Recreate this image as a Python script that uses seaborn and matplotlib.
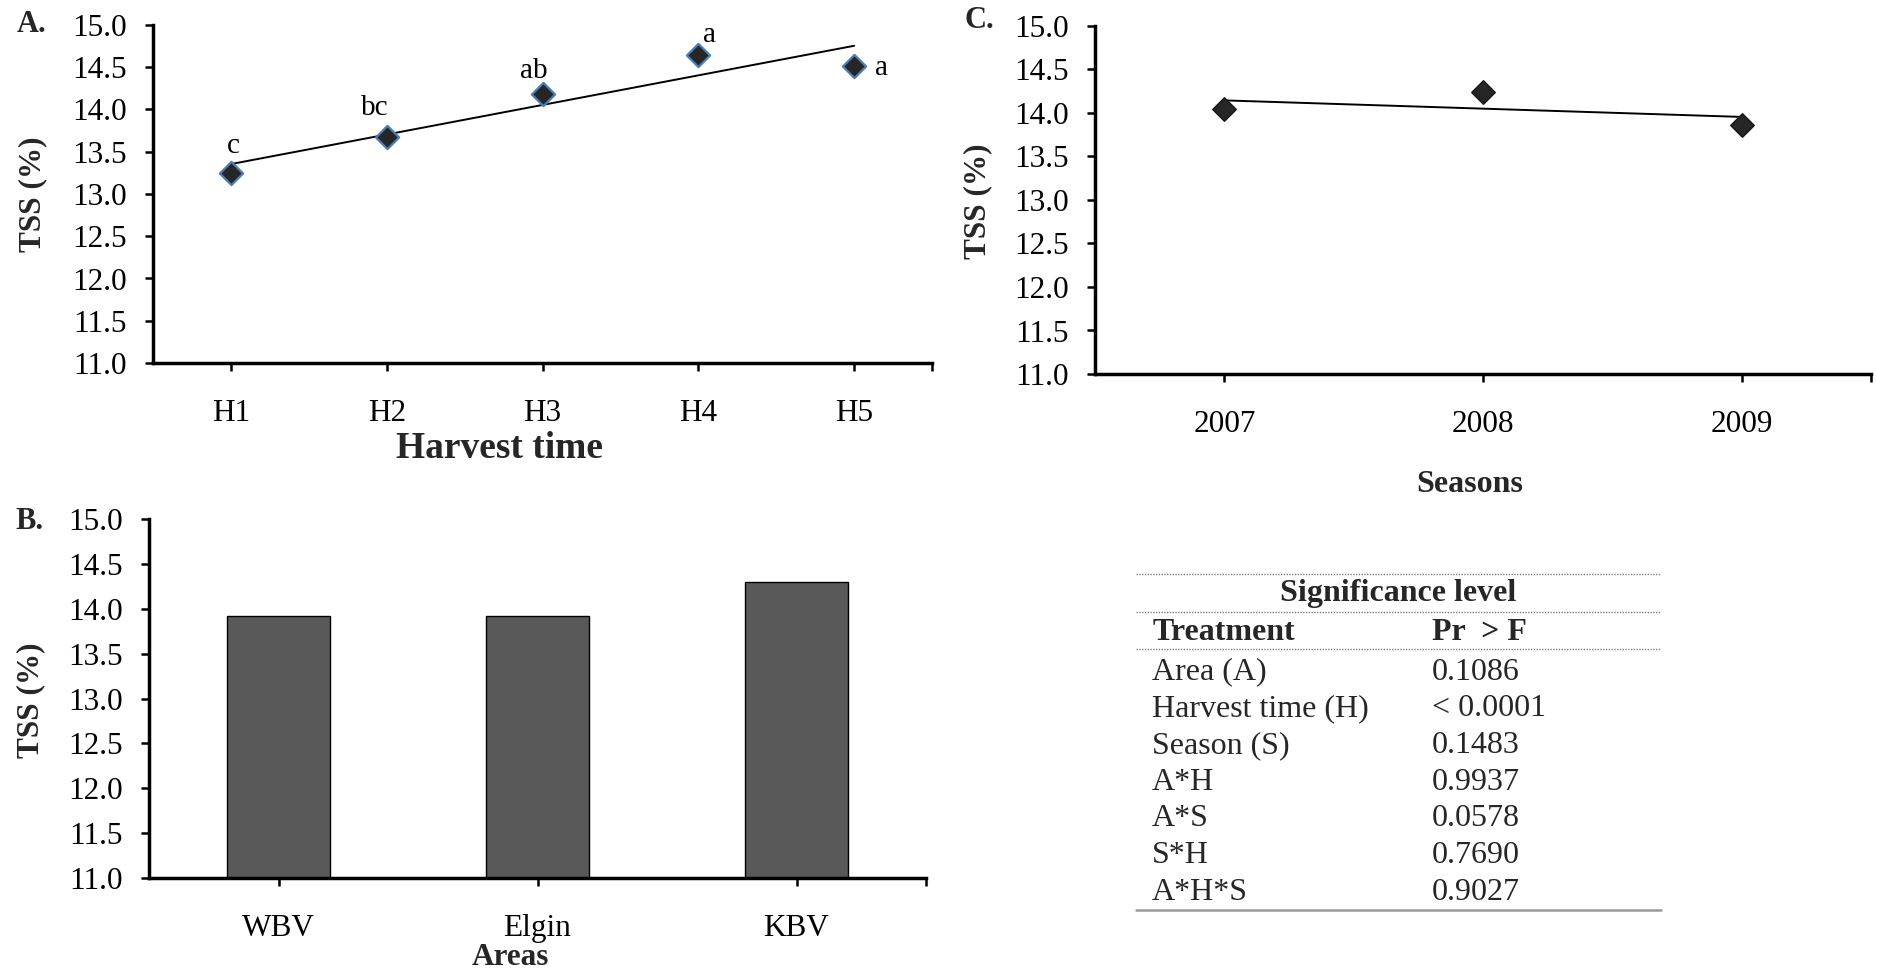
import numpy as np
import matplotlib
matplotlib.use("Agg")
import matplotlib.pyplot as plt
import seaborn as sns
from matplotlib.ticker import FixedLocator, FormatStrFormatter
from matplotlib.lines import Line2D

# Harvest-time means with significance letters
harvest_times = ["H1", "H2", "H3", "H4", "H5"]
harvest_tss = [13.25, 13.68, 14.18, 14.64, 14.52]
harvest_letters = ["c", "bc", "ab", "a", "a"]

# Area means
areas = ["WBV", "Elgin", "KBV"]
area_tss = [13.92, 13.92, 14.30]

# Season means
seasons = ["2007", "2008", "2009"]
season_tss = [14.05, 14.24, 13.86]

# ANOVA summary
treatments = ["Area (A)", "Harvest time (H)", "Season (S)", "A*H", "A*S", "S*H", "A*H*S"]
p_values = ["0.1086", "< 0.0001", "0.1483", "0.9937", "0.0578", "0.7690", "0.9027"]

y_ticks = [11.0, 11.5, 12.0, 12.5, 13.0, 13.5, 14.0, 14.5, 15.0]

W, H = 1877, 971
sns.set_theme(style="white")
plt.rcParams["font.family"] = ["Liberation Serif", "DejaVu Serif"]
plt.rcParams["axes.unicode_minus"] = False

fig = plt.figure(figsize=(W / 100, H / 100), dpi=100)
fig.patch.set_facecolor("white")


def fx(px):
    return px / W


def fy(py):
    return 1 - py / H


def axes_px(x0, y0, x1, y1):
    return fig.add_axes([fx(x0), fy(y1), (x1 - x0) / W, (y1 - y0) / H])


def style_axes(ax, labels):
    n = len(labels)
    ax.set_facecolor("white")
    ax.set_ylim(11, 15)
    ax.set_xlim(-0.5, n - 0.5)
    ax.yaxis.set_major_locator(FixedLocator(y_ticks))
    ax.yaxis.set_major_formatter(FormatStrFormatter("%.1f"))
    ax.set_xticks(range(n))
    ax.set_xticklabels(labels)
    ax.set_xticks([n - 0.5], minor=True)
    for s in ["top", "right"]:
        ax.spines[s].set_visible(False)
    for s in ["left", "bottom"]:
        ax.spines[s].set_linewidth(2.5)
        ax.spines[s].set_color("black")
    ax.tick_params(axis="y", which="major", left=True, direction="out",
                   length=6, width=1.8, color="black", pad=13,
                   labelsize=22.5, labelcolor="black")
    ax.tick_params(axis="x", which="major", bottom=True, direction="out",
                   length=6, width=1.8, color="black", pad=20,
                   labelsize=22.5, labelcolor="black")
    ax.tick_params(axis="x", which="minor", bottom=True, direction="out",
                   length=6, width=1.8, color="black")
    ax.set_xlabel("")
    ax.set_ylabel("")
    ax.grid(False)


# ---- Panel A: harvest time ----
axA = axes_px(153, 25, 932, 363)
posA = np.arange(len(harvest_times))
sns.regplot(x=posA, y=harvest_tss, scatter=False, ci=None, truncate=True,
            color="black", line_kws=dict(lw=1.4), ax=axA)
sns.scatterplot(x=posA, y=harvest_tss, marker="D", s=140, color="#262626",
                edgecolor="#4a7ebb", linewidth=1.6, zorder=4, ax=axA)
style_axes(axA, harvest_times)
letter_offsets = [(2, 27), (-12, 29), (-9, 23), (11, 20), (27, -2)]
for i, (lab, off) in enumerate(zip(harvest_letters, letter_offsets)):
    axA.annotate(lab, (posA[i], harvest_tss[i]), xytext=off,
                 textcoords="offset pixels", ha="center", va="center",
                 fontsize=21, color="black")

# ---- Panel B: areas ----
axB = axes_px(149, 519, 926, 878)
sns.barplot(x=areas, y=area_tss, color="#595959", saturation=1, width=0.4,
            edgecolor="black", linewidth=1, errorbar=None, ax=axB)
style_axes(axB, areas)

# ---- Panel C: seasons ----
axC = axes_px(1095, 26, 1871, 374)
posC = np.arange(len(seasons))
sns.regplot(x=posC, y=season_tss, scatter=False, ci=None, truncate=True,
            color="black", line_kws=dict(lw=1.4), ax=axC)
sns.scatterplot(x=posC, y=season_tss, marker="D", s=140, color="#262626",
                edgecolor="#1a1a1a", linewidth=1.2, zorder=4, ax=axC)
style_axes(axC, seasons)

# ---- axis titles and panel letters ----
fig.text(fx(500), fy(449), "Harvest time", ha="center", va="center",
         fontsize=27, fontweight="bold")
fig.text(fx(1470), fy(485), "Seasons", ha="center", va="center",
         fontsize=23, fontweight="bold")
fig.text(fx(510), fy(957), "Areas", ha="center", va="center",
         fontsize=22.5, fontweight="bold")
for (x, y) in [(33, 194), (31, 700), (978, 201)]:
    fig.text(fx(x), fy(y), "TSS (%)", ha="center", va="center", rotation=90,
             fontsize=22.5, fontweight="bold")
for lab, (x, y) in [("A.", (17, 24)), ("B.", (15, 521)), ("C.", (964, 21))]:
    fig.text(fx(x), fy(y), lab, ha="left", va="center", fontsize=22,
             fontweight="bold")

# ---- significance table ----
tx0, tx1 = 1136, 1661
for yl in [574, 612, 649]:
    fig.add_artist(Line2D([fx(tx0), fx(tx1)], [fy(yl), fy(yl)],
                          color="#7f7f7f", lw=1.0, linestyle=(0, (1, 1))))
fig.add_artist(Line2D([fx(tx0), fx(tx1)], [fy(910), fy(910)],
                      color="#9a9a9a", lw=1.8))
fig.text(fx((tx0 + tx1) / 2), fy(594), "Significance level", ha="center",
         va="center", fontsize=23, fontweight="bold")
fig.text(fx(1153), fy(633), "Treatment", ha="left", va="center",
         fontsize=23, fontweight="bold")
fig.text(fx(1432), fy(633), "Pr  > F", ha="left", va="center",
         fontsize=23, fontweight="bold")
row_y0, row_dy = 672, 36.7
for i, (t, p) in enumerate(zip(treatments, p_values)):
    yy = row_y0 + i * row_dy
    fig.text(fx(1152), fy(yy), t, ha="left", va="center", fontsize=23)
    fig.text(fx(1432), fy(yy), p, ha="left", va="center", fontsize=23)

fig.savefig("out.png", dpi=100, facecolor="white")
